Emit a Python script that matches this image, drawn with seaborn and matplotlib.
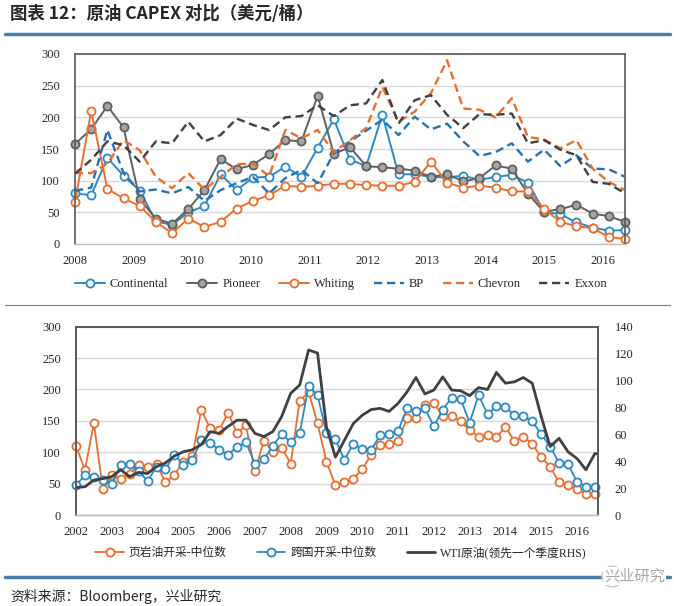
import numpy as np
import pandas as pd
import matplotlib
matplotlib.use('Agg')
import matplotlib.pyplot as plt
import seaborn as sns
from matplotlib.lines import Line2D

# ---------------- data (top: quarterly CAPEX per barrel, 2008Q1-2016Q3) ----------------
top_labels = ['2008', '2009', '2010', '2010', '2011', '2012', '2013', '2014', '2015', '2016']
continental = [80, 77, 136, 108, 84, 36, 30, 50, 60, 110, 85, 105, 106, 122, 106, 152, 197, 133,
               123, 204, 110, 110, 106, 105, 108, 101, 106, 109, 97, 51, 47, 34, 26, 21, 22]
pioneer = [158, 181, 218, 184, 71, 40, 32, 55, 85, 134, 118, 125, 142, 164, 162, 234, 142, 153,
           123, 121, 119, 116, 106, 110, 99, 104, 124, 119, 79, 51, 55, 62, 48, 44, 35]
whiting = [66, 210, 87, 72, 60, 35, 17, 40, 27, 35, 56, 68, 77, 92, 90, 92, 95, 95,
           93, 92, 92, 98, 130, 97, 89, 92, 89, 83, 83, 56, 35, 28, 25, 11, 8]
bp = [84, 89, 180, 112, 83, 86, 80, 90, 68, 85, 96, 106, 80, 104, 117, 96, 143, 162,
      179, 196, 172, 201, 181, 190, 162, 139, 145, 159, 130, 149, 123, 140, 119, 118, 106]
chevron = [112, 112, 127, 164, 148, 106, 88, 112, 86, 106, 126, 127, 107, 180, 167, 180, 145, 164,
           183, 248, 193, 209, 238, 290, 214, 212, 200, 230, 169, 165, 151, 164, 119, 98, 85]
exxon = [111, 133, 162, 156, 130, 162, 159, 193, 162, 172, 198, 188, 180, 200, 202, 219, 202, 219,
         222, 259, 190, 227, 235, 204, 183, 205, 204, 206, 159, 164, 149, 140, 98, 95, 80]

# ---------------- data (bottom: 2002Q1-2016Q3) ----------------
bottom_labels = [str(y) for y in range(2002, 2017)]
shale = [110, 72, 146, 41, 63, 58, 65, 80, 76, 81, 52, 64, 85, 94, 167, 138, 135, 163, 130, 143,
         70, 118, 101, 107, 82, 182, 196, 146, 85, 47, 52, 58, 73, 96, 112, 113, 118, 154, 155, 175,
         178, 157, 157, 149, 135, 125, 128, 124, 140, 118, 125, 113, 92, 77, 52, 47, 42, 33, 34]
crossborder = [48, 63, 61, 55, 50, 80, 81, 70, 54, 77, 73, 96, 80, 88, 119, 115, 104, 96, 109, 116,
               81, 89, 110, 129, 116, 130, 206, 191, 130, 121, 88, 113, 105, 104, 127, 129, 134, 170, 165, 170,
               141, 168, 187, 185, 147, 191, 161, 173, 172, 159, 158, 149, 129, 109, 83, 81, 53, 45, 44]
wti = [20.5, 21, 26, 27, 28.5, 33.6, 28.5, 31.7, 30.8, 36, 38.7, 43.9, 47, 48.5, 52.3, 62, 60.7, 65.8,
       70.5, 70.5, 60.7, 58.3, 62, 73.3, 90.5, 96.6, 122.7, 120.4, 65.3, 43, 55.5, 68, 74.2, 78.4,
       79.3, 77, 83, 91.5, 102.2, 90, 92.9, 102.7, 92.9, 92.4, 88.7, 94.7, 93.3, 106, 98, 99, 102.2,
       98, 73.3, 50.9, 57, 47, 42, 33.6, 45.7, 44.8]

# ---------------- style ----------------
sns.set_style('white')
plt.rcParams['font.family'] = ['Liberation Serif', 'Noto Sans CJK SC']
plt.rcParams['axes.unicode_minus'] = False

BLUE = '#2a8ac6'
BLUE_D = '#2471b3'
ORANGE = '#ec6d2c'
GREY = '#5f5f5f'
GREY_F = '#a5a5a5'
DARK = '#404040'
SPINE = '#595959'
GRID = '#d9d9d9'

W, H = 674, 606
fig = plt.figure(figsize=(W / 100, H / 100), dpi=100)


def fx(px):
    return px / W


def fy(py):
    return 1 - py / H


# title + rule
fig.text(fx(10), fy(14), '图表 12：原油 CAPEX 对比（美元/桶）', fontsize=12.5, fontweight='bold',
         family=['Noto Sans CJK SC'], ha='left', va='center')
fig.add_artist(Line2D([fx(5), fx(670)], [fy(34), fy(34)], color='#4a7eab', lw=2.5))

# ---------------- top chart ----------------
ax1 = fig.add_axes([fx(75), fy(244), (625 - 75) / W, 190 / H])
q = np.arange(len(continental))
df_top = pd.DataFrame({'q': q, 'Continental': continental, 'Pioneer': pioneer, 'Whiting': whiting,
                       'BP': bp, 'Chevron': chevron, 'Exxon': exxon})

mk = dict(marker='o', markersize=5.8, markeredgewidth=1.3)
sns.lineplot(data=df_top, x='q', y='Continental', ax=ax1, color=BLUE, lw=1.4,
             markerfacecolor='white', markeredgecolor=BLUE, label='Continental', clip_on=False, **mk)
sns.lineplot(data=df_top, x='q', y='Pioneer', ax=ax1, color=GREY, lw=1.4,
             markerfacecolor=GREY_F, markeredgecolor=GREY, label='Pioneer', clip_on=False, **mk)
sns.lineplot(data=df_top, x='q', y='Whiting', ax=ax1, color=ORANGE, lw=1.4,
             markerfacecolor='white', markeredgecolor=ORANGE, label='Whiting', clip_on=False, **mk)
sns.lineplot(data=df_top, x='q', y='BP', ax=ax1, color=BLUE_D, lw=1.7, linestyle=(0, (3.5, 2)), label='BP')
sns.lineplot(data=df_top, x='q', y='Chevron', ax=ax1, color=ORANGE, lw=1.7, linestyle=(0, (3.5, 2)), label='Chevron')
sns.lineplot(data=df_top, x='q', y='Exxon', ax=ax1, color=DARK, lw=1.7, linestyle=(0, (3.5, 2)), label='Exxon')

handles, labels = ax1.get_legend_handles_labels()
if ax1.get_legend() is not None:
    ax1.get_legend().remove()

ax1.set_xlim(0, len(continental) - 1)
ax1.set_ylim(0, 300)
ax1.set_yticks(np.arange(0, 301, 50))
step_top = 3.625
ax1.set_xticks([k * step_top for k in range(len(top_labels))])
ax1.set_xticklabels(top_labels)
ax1.set_xlabel('')
ax1.set_ylabel('')
ax1.grid(axis='y', color=GRID, lw=1)
ax1.grid(axis='x', visible=False)
ax1.tick_params(axis='x', length=3, width=0.8, color='#bfbfbf', pad=5, labelsize=9)
ax1.tick_params(axis='y', length=0, pad=11, labelsize=9)
for s in ['left', 'top', 'right']:
    ax1.spines[s].set_color(SPINE)
    ax1.spines[s].set_linewidth(1.2)
ax1.spines['bottom'].set_color('#bfbfbf')
ax1.spines['bottom'].set_linewidth(1)

fig.legend(handles, labels, loc='center', bbox_to_anchor=(fx(341), fy(284)), ncol=6, frameon=False,
           fontsize=9, handlelength=2.4, columnspacing=1.5, handletextpad=0.4)

# separator
fig.add_artist(Line2D([fx(5), fx(670)], [fy(305), fy(305)], color='#7f7f7f', lw=0.8))

# ---------------- bottom chart ----------------
ax2 = fig.add_axes([fx(76), fy(515), (598 - 76) / W, 188.3 / H])
ax2r = ax2.twinx()
df_b = pd.DataFrame({'q': np.arange(len(shale)), 'shale': shale, 'cross': crossborder})
df_w = pd.DataFrame({'q': np.arange(len(wti)), 'wti': wti})

sns.lineplot(data=df_b, x='q', y='shale', ax=ax2, color=ORANGE, lw=1.3, marker='o', markersize=5.8,
             markeredgewidth=1.3, markerfacecolor='white', markeredgecolor=ORANGE,
             label='页岩油开采-中位数', clip_on=False)
sns.lineplot(data=df_b, x='q', y='cross', ax=ax2, color=BLUE, lw=1.3, marker='o', markersize=5.8,
             markeredgewidth=1.3, markerfacecolor='white', markeredgecolor=BLUE,
             label='跨国开采-中位数', clip_on=False)
sns.lineplot(data=df_w, x='q', y='wti', ax=ax2r, color=DARK, lw=2.0, label='WTI原油(领先一个季度RHS)')

h2, l2 = ax2.get_legend_handles_labels()
h3, l3 = ax2r.get_legend_handles_labels()
for a in (ax2, ax2r):
    if a.get_legend() is not None:
        a.get_legend().remove()

xmax = len(shale) - 1 + 0.35
ax2.set_xlim(0, xmax)
ax2r.set_xlim(0, xmax)
ax2.set_ylim(0, 300)
ax2.set_yticks(np.arange(0, 301, 50))
ax2r.set_ylim(0, 140)
ax2r.set_yticks(np.arange(0, 141, 20))
ax2.set_xticks([4 * k for k in range(len(bottom_labels))])
ax2.set_xticklabels(bottom_labels)
for a in (ax2, ax2r):
    a.set_xlabel('')
    a.set_ylabel('')
ax2.grid(axis='y', color=GRID, lw=1)
ax2.grid(axis='x', visible=False)
ax2r.grid(False)
ax2.tick_params(axis='x', length=3, width=0.8, color='#bfbfbf', pad=5, labelsize=9)
ax2.tick_params(axis='y', length=0, pad=11, labelsize=9)
ax2r.tick_params(axis='y', length=0, pad=12, labelsize=9)
for a in (ax2, ax2r):
    for s in ['left', 'top', 'right']:
        a.spines[s].set_color(SPINE)
        a.spines[s].set_linewidth(1.2)
    a.spines['bottom'].set_color('#bfbfbf')
    a.spines['bottom'].set_linewidth(1)

fig.legend(h2 + h3, l2 + l3, loc='center', bbox_to_anchor=(fx(341), fy(553)), ncol=3, frameon=False,
           fontsize=8.5, handlelength=2.4, columnspacing=2.6, handletextpad=0.4)

# bottom rule, watermark and source
fig.add_artist(Line2D([fx(5), fx(670)], [fy(577), fy(577)], color='#4a7eab', lw=2.5))
fig.add_artist(Line2D([fx(612)], [fy(576)], marker='o', markersize=15, markerfacecolor='white',
                      markeredgecolor='#c8c8c8', markeredgewidth=1, linestyle='none'))
fig.text(fx(665), fy(576), '兴业研究', ha='right', va='center', color='#a8a8a8', fontsize=11,
         family=['Noto Sans CJK SC'], bbox=dict(facecolor='white', edgecolor='none', pad=0.5))
fig.text(fx(10), fy(596), '资料来源：Bloomberg，兴业研究', ha='left', va='center', fontsize=10,
         style='italic', family=['Noto Sans CJK SC', 'DejaVu Sans'])

fig.savefig('out.png', dpi=100)
